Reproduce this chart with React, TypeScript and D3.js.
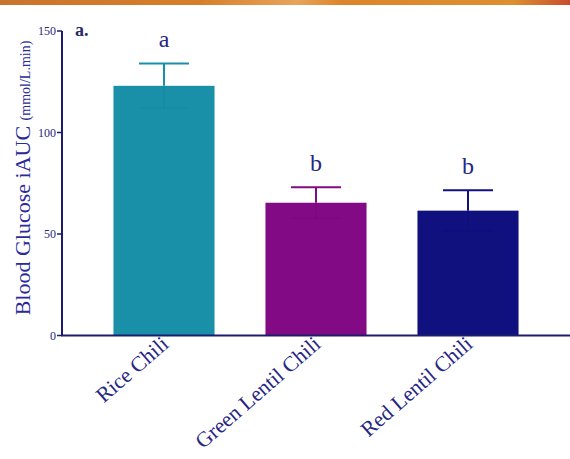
import React from "react";
import * as d3 from "d3";

const categories = ["Rice Chili", "Green Lentil Chili", "Red Lentil Chili"];
const means = [123, 65.4, 61.5];
const errors = [11, 7.6, 10];
const letters = ["a", "b", "b"];
const colors = ["#1a90a8", "#820a84", "#10107f"];
const yTicks = [0, 50, 100, 150];

const W = 570;
const H = 459;
const FONT = "'Palatino Linotype', 'Book Antiqua', Palatino, 'Liberation Serif', serif";
const INK = "#262683";
const AXIS = "#1c1c6e";

export default function App() {
  const x0 = 62;
  const y = d3.scaleLinear().domain([0, 150]).range([335.5, 31]);
  const x = d3
    .scaleBand<string>()
    .domain(categories)
    .range([88, 544])
    .paddingInner(0.335)
    .paddingOuter(0.1675);
  const bw = x.bandwidth();

  return (
    <svg
      width={W}
      height={H}
      style={{ position: "absolute", left: 0, top: 0, background: "#fff" }}
    >
      <defs>
        <linearGradient id="band" x1="0" x2="1" y1="0" y2="0">
          <stop offset="0" stopColor="#c9742c" />
          <stop offset="0.35" stopColor="#d67f2a" />
          <stop offset="0.52" stopColor="#e8a45a" />
          <stop offset="0.6" stopColor="#dc852a" />
          <stop offset="0.9" stopColor="#dc9030" />
          <stop offset="1" stopColor="#c84c30" />
        </linearGradient>
      </defs>
      <rect x={0} y={0} width={W} height={5} fill="url(#band)" />

      {/* bars */}
      {categories.map((c, i) => {
        const cx = (x(c) as number) + bw / 2;
        const top = y(means[i] + errors[i]);
        const bot = y(means[i] - errors[i]);
        const inner = d3.color(colors[i])!.darker(0.3).toString();
        return (
          <g key={c}>
            <rect
              x={x(c)}
              y={y(means[i])}
              width={bw}
              height={y(0) - y(means[i])}
              fill={colors[i]}
            />
            <line x1={cx} x2={cx} y1={top} y2={y(means[i])} stroke={colors[i]} strokeWidth={2} />
            <line x1={cx - 25} x2={cx + 25} y1={top} y2={top} stroke={colors[i]} strokeWidth={2} />
            <line x1={cx} x2={cx} y1={y(means[i])} y2={bot} stroke={inner} strokeWidth={1.2} opacity={0.45} />
            <line x1={cx - 25} x2={cx + 25} y1={bot} y2={bot} stroke={inner} strokeWidth={1.2} opacity={0.45} />
            <text
              x={cx}
              y={top - 16}
              textAnchor="middle"
              fontFamily={FONT}
              fontSize={24}
              fill={INK}
            >
              {letters[i]}
            </text>
          </g>
        );
      })}

      {/* axes */}
      <line x1={x0} x2={x0} y1={y(150)} y2={y(0)} stroke={AXIS} strokeWidth={2} />
      <line x1={x0 - 1} x2={W} y1={y(0)} y2={y(0)} stroke={AXIS} strokeWidth={2} />
      {yTicks.map((t) => (
        <g key={t}>
          <line x1={x0 - 5} x2={x0} y1={y(t)} y2={y(t)} stroke={AXIS} strokeWidth={1.5} />
          <text
            x={x0 - 6}
            y={y(t)}
            dy="0.35em"
            textAnchor="end"
            fontFamily={FONT}
            fontSize={12}
            fill={INK}
          >
            {t}
          </text>
        </g>
      ))}

      <text x={75} y={36} fontFamily={FONT} fontSize={18} fontWeight="bold" fill="#2a2a6a">
        a.
      </text>

      {/* y label */}
      <text
        transform="translate(30,178) rotate(-90)"
        textAnchor="middle"
        fontFamily={FONT}
        fill="#2a2a9a"
      >
        <tspan fontSize={22}>Blood Glucose iAUC </tspan>
        <tspan fontSize={14}>(mmol/L.min)</tspan>
      </text>

      {/* x labels */}
      {categories.map((c) => {
        const cx = (x(c) as number) + bw / 2;
        return (
          <text
            key={c}
            transform={`translate(${cx + 6},${346}) rotate(-41)`}
            textAnchor="end"
            fontFamily={FONT}
            fontSize={21.5}
            fill={INK}
          >
            {c}
          </text>
        );
      })}
    </svg>
  );
}
